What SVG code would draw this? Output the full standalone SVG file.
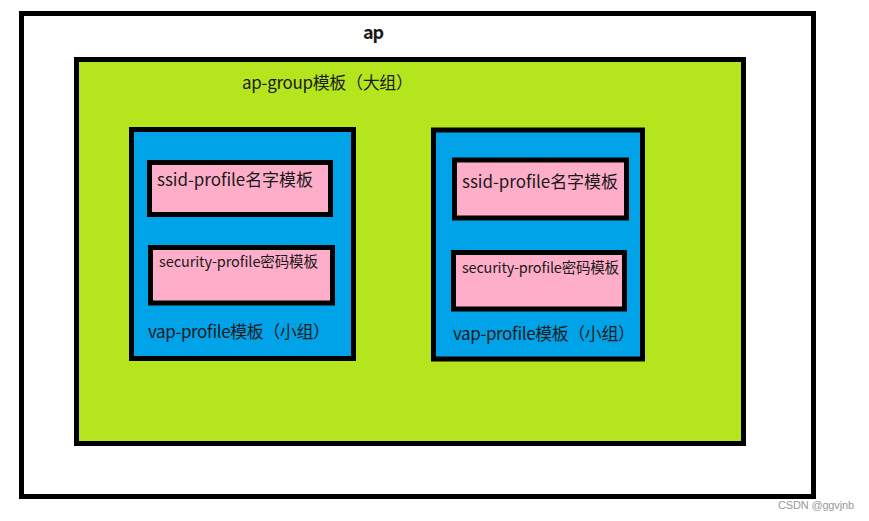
<svg xmlns="http://www.w3.org/2000/svg" width="869" height="521" viewBox="0 0 869 521">
<style>
.box{stroke:#000;stroke-width:5}
.t{font-family:"Noto Sans CJK SC","Noto Sans",sans-serif;fill:#1a1a1a}
</style>
<rect width="869" height="521" fill="#fff"/>
<g id="ap">
<rect class="box" x="21.5" y="13.5" width="792" height="483" fill="#fff"/>
<text class="t" x="363" y="39" font-size="18" font-weight="bold" textLength="21" fill="#000">ap</text>
</g>
<g id="ap-group">
<rect class="box" x="76.5" y="59.5" width="667" height="384" fill="#B5E61D"/>
<text class="t" x="242" y="89" font-size="17" textLength="171">ap-group模板（大组）</text>
</g>
<g id="vap1">
<rect class="box" x="131.5" y="129.5" width="222" height="229" fill="#00A2E8"/>
<text class="t" x="148" y="338" font-size="17" textLength="182">vap-profile模板（小组）</text>
</g>
<g id="ssid1">
<rect class="box" x="149.5" y="162.5" width="181" height="52" fill="#FFAEC9"/>
<text class="t" x="157" y="186" font-size="17" textLength="156">ssid-profile名字模板</text>
</g>
<g id="sec1">
<rect class="box" x="150.5" y="247.5" width="182" height="55.5" fill="#FFAEC9"/>
<text class="t" x="159" y="267" font-size="14.5" textLength="159">security-profile密码模板</text>
</g>
<g id="vap2">
<rect class="box" x="433.5" y="130" width="209" height="229" fill="#00A2E8"/>
<text class="t" x="453" y="340" font-size="17" textLength="182">vap-profile模板（小组）</text>
</g>
<g id="ssid2">
<rect class="box" x="454.5" y="160" width="172" height="58" fill="#FFAEC9"/>
<text class="t" x="462" y="188" font-size="17" textLength="156">ssid-profile名字模板</text>
</g>
<g id="sec2">
<rect class="box" x="453.5" y="252.5" width="171" height="56.5" fill="#FFAEC9"/>
<text class="t" x="462" y="273" font-size="14.5" textLength="157">security-profile密码模板</text>
</g>
<g id="connectors"></g>
<text x="778" y="509" font-family="Liberation Sans, sans-serif" font-size="11" fill="#999" textLength="76">CSDN @ggvjnb</text>
</svg>
